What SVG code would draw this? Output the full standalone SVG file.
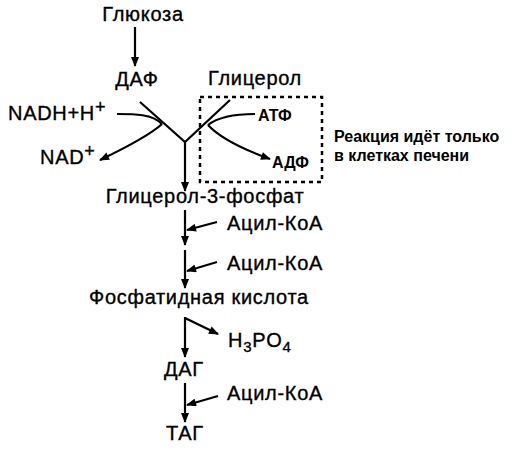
<svg xmlns="http://www.w3.org/2000/svg" width="530" height="450" viewBox="0 0 530 450">
<defs>
<marker id="ah" viewBox="0 0 10 8" refX="9" refY="4" markerWidth="11" markerHeight="8" markerUnits="userSpaceOnUse" orient="auto">
<path d="M0,0 L10,4 L0,8 Z" fill="#000"/>
</marker>
<style>
.t{font-family:"Liberation Sans",Arial,sans-serif;font-size:20px;letter-spacing:0.7px;fill:#000;stroke:#000;stroke-width:0.35}
.b{font-family:"Liberation Sans",Arial,sans-serif;font-size:16px;font-weight:bold;fill:#000}
.l{fill:none;stroke:#000;stroke-width:2.2}
.a{fill:none;stroke:#000;stroke-width:2.2;marker-end:url(#ah)}
.d{fill:none;stroke:#000;stroke-width:2.5;stroke-dasharray:4 4}
</style>
</defs>
<rect width="530" height="450" fill="#fff"/>
<g id="glucose"><text class="t" x="143" y="21" text-anchor="middle">Глюкоза</text></g>
<g id="daf"><text class="t" x="137" y="86" text-anchor="middle">ДАФ</text></g>
<g id="glycerol"><text class="t" x="255" y="85" text-anchor="middle">Глицерол</text></g>
<g id="nadh"><text class="t" x="8" y="120">NADH+H<tspan dy="-7" font-size="18">+</tspan></text></g>
<g id="nad"><text class="t" x="40" y="164">NAD<tspan dy="-7" font-size="18">+</tspan></text></g>
<g id="atf"><text class="b" x="258" y="121">АТФ</text></g>
<g id="adf"><text class="b" x="272" y="168">АДФ</text></g>
<g id="note"><text class="b" x="334" y="142">Реакция идёт только</text><text class="b" x="334" y="161">в клетках печени</text></g>
<g id="g3p"><text class="t" x="205" y="203" text-anchor="middle">Глицерол-3-фосфат</text></g>
<g id="acyl1"><text class="t" x="227" y="230">Ацил-КоА</text></g>
<g id="acyl2"><text class="t" x="227" y="270">Ацил-КоА</text></g>
<g id="pa"><text class="t" x="199" y="304" text-anchor="middle">Фосфатидная кислота</text></g>
<g id="h3po4"><text class="t" x="228" y="347">H<tspan dy="5" font-size="15">3</tspan><tspan dy="-5">PO</tspan><tspan dy="5" font-size="15">4</tspan></text></g>
<g id="dag"><text class="t" x="184" y="376" text-anchor="middle">ДАГ</text></g>
<g id="acyl3"><text class="t" x="227" y="400">Ацил-КоА</text></g>
<g id="tag"><text class="t" x="185" y="440" text-anchor="middle">ТАГ</text></g>
<g id="liver-box"><rect class="d" x="200" y="97" width="122" height="85"/></g>
<g id="connectors">
<path class="a" d="M135,27 L135,66"/>
<path class="l" d="M140,102 L185,142 L230,100"/>
<path class="a" d="M185,142 L185,191"/>
<path class="l" d="M117,114 C135,114 152,114 162,124"/>
<path class="a" d="M162,124 C150,135 125,148 100,160"/>
<path class="l" d="M255,114 C235,114 218,117 208,125"/>
<path class="a" d="M208,125 C220,138 245,150 270,159"/>
<path class="a" d="M185,210 L185,245"/>
<path class="a" d="M217,222 L187,230"/>
<path class="a" d="M185,250 L185,288"/>
<path class="a" d="M217,262 L187,271"/>
<path class="a" d="M185,317 L185,357"/>
<path class="a" d="M185,318 L218,334"/>
<path class="a" d="M185,383 L185,422"/>
<path class="a" d="M218,396 L187,405"/>
</g>
</svg>
